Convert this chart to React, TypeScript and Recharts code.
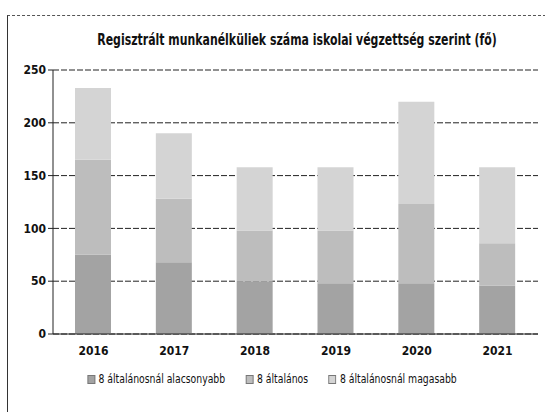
import { Bar, BarChart, CartesianGrid, Legend, XAxis, YAxis } from "recharts";

const YEARS = ["2016", "2017", "2018", "2019", "2020", "2021"];
const BELOW_8 = [75, 68, 50, 48, 48, 46];
const GRADE_8 = [90, 60, 48, 50, 75, 40];
const ABOVE_8 = [68, 62, 60, 60, 97, 72];
const Y_TICKS = [0, 50, 100, 150, 200, 250];

const SERIES = [
  { key: "below", name: "8 általánosnál alacsonyabb", fill: "#a3a3a3" },
  { key: "grade", name: "8 általános", fill: "#bdbdbd" },
  { key: "above", name: "8 általánosnál magasabb", fill: "#d4d4d4" },
];

const data = YEARS.map((year, i) => ({
  year,
  below: BELOW_8[i],
  grade: GRADE_8[i],
  above: ABOVE_8[i],
}));

const FONT = "'DejaVu Sans Condensed', 'Liberation Sans Narrow', Roboto, sans-serif";

function LegendRow() {
  return (
    <div
      style={{
        display: "flex",
        justifyContent: "center",
        gap: 24,
        fontSize: 12,
        color: "#111",
        fontFamily: FONT,
        transform: "scaleX(0.86)",
        transformOrigin: "269px 50%",
      }}
    >
      {SERIES.map((s) => (
        <span key={s.key} style={{ display: "flex", alignItems: "center", gap: 4 }}>
          <span
            style={{
              display: "inline-block",
              width: 7,
              height: 7,
              background: s.fill,
              border: "1px solid #777",
            }}
          />
          {s.name}
        </span>
      ))}
    </div>
  );
}

export default function App() {
  return (
    <div
      style={{
        position: "absolute",
        left: 0,
        top: 0,
        width: 545,
        height: 412,
        background: "#fff",
        fontFamily: FONT,
      }}
    >
      <div
        style={{
          position: "absolute",
          left: 7,
          top: 15,
          width: 538,
          height: 397,
          borderTop: "1px dashed #555",
          borderLeft: "1px solid #333",
        }}
      />
      <div
        style={{
          position: "absolute",
          top: 31,
          left: 47,
          width: 500,
          textAlign: "center",
          fontSize: 15,
          fontWeight: "bold",
          color: "#111",
          transform: "scaleX(0.81)",
          transformOrigin: "50% 50%",
          whiteSpace: "nowrap",
        }}
      >
        Regisztrált munkanélküliek száma iskolai végzettség szerint (fő)
      </div>
      <BarChart
        width={545}
        height={412}
        data={data}
        margin={{ top: 70, right: 7, bottom: 48, left: 3 }}
        style={{ position: "absolute", left: 0, top: 0 }}
      >
        <CartesianGrid vertical={false} stroke="#222" strokeDasharray="6 2" />
        <XAxis
          dataKey="year"
          height={30}
          axisLine={{ stroke: "#222" }}
          tickLine={false}
          tick={{ fill: "#111", fontSize: 12, fontWeight: "bold", fontFamily: FONT }}
          tickMargin={6}
        />
        <YAxis
          domain={[0, 250]}
          ticks={Y_TICKS}
          width={50}
          axisLine={{ stroke: "#222" }}
          tickLine={{ stroke: "#222" }}
          tickSize={5}
          tick={{ fill: "#111", fontSize: 12, fontWeight: "bold", fontFamily: FONT }}
        />
        <Legend
          layout="horizontal"
          verticalAlign="middle"
          content={() => <LegendRow />}
          wrapperStyle={{ position: "absolute", top: 372, left: 0, width: 545 }}
        />
        {SERIES.map((s) => (
          <Bar
            key={s.key}
            dataKey={s.key}
            name={s.name}
            stackId="a"
            fill={s.fill}
            barSize={36}
            isAnimationActive={false}
          />
        ))}
      </BarChart>
    </div>
  );
}
